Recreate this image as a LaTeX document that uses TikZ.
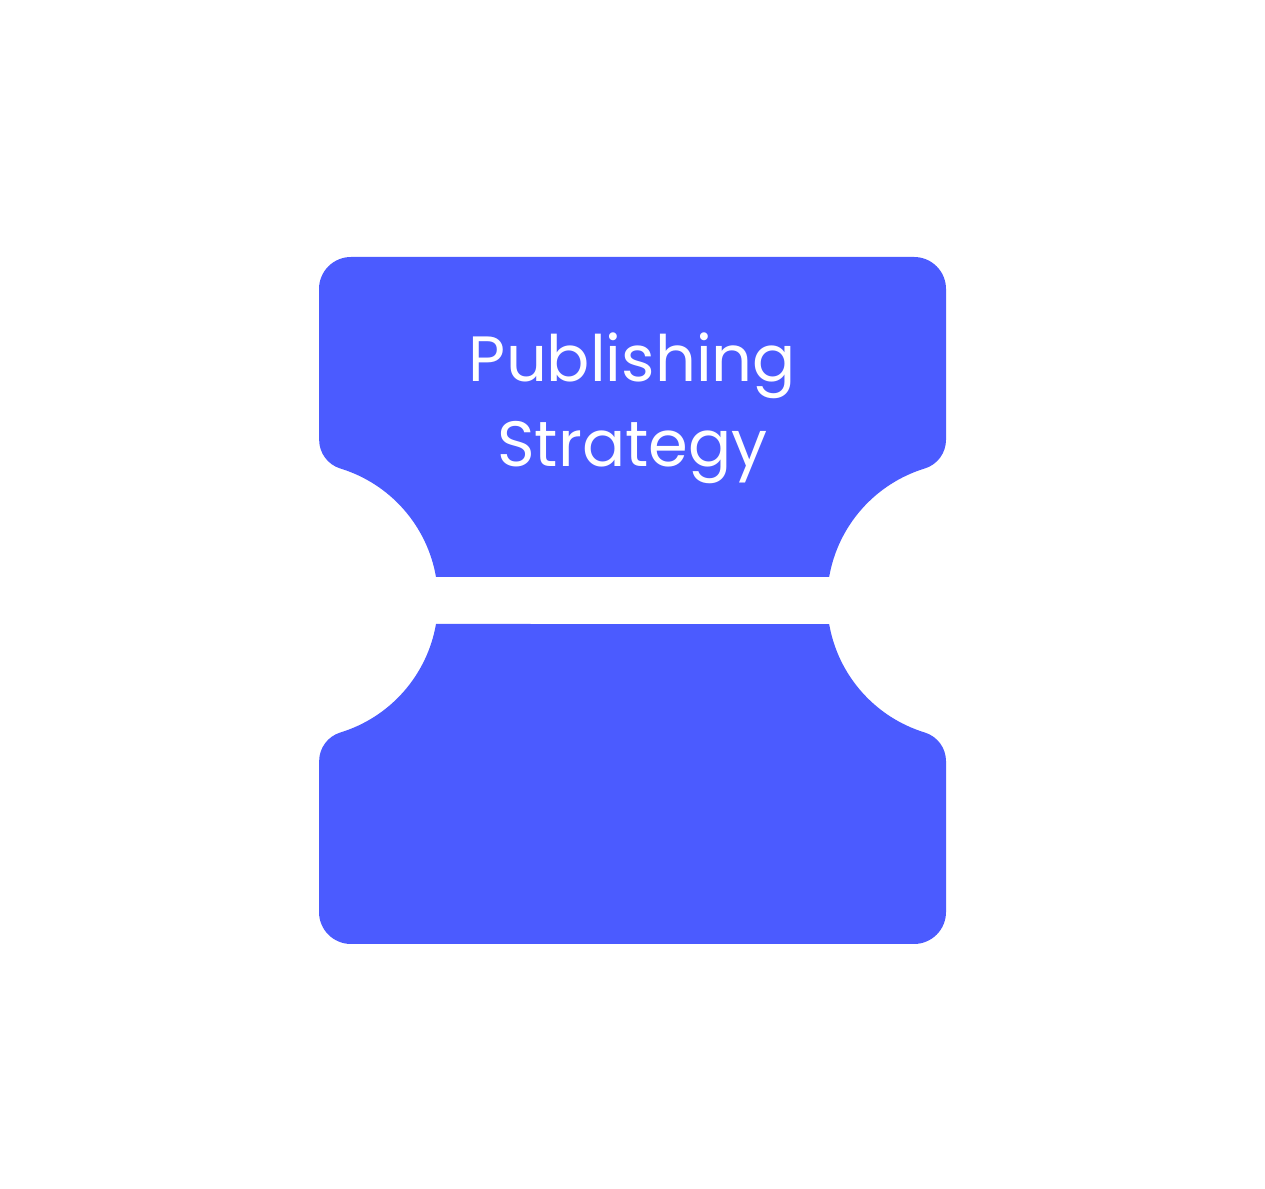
\documentclass[tikz,border=0pt]{standalone}
\usepackage{fontspec}
\setmainfont{Poppins}
\definecolor{blu}{RGB}{75,91,255}
\tikzset{
  blob/.style={fill=blu, draw=none},
  lbl/.style={text=white, anchor=base, inner sep=0pt, font=\fontsize{64}{77}\selectfont}
}
\newcommand{\ticketpath}{%
  (319,899) arc[start angle=180,end angle=90,radius=32]
  -- (914,931) arc[start angle=90,end angle=0,radius=32]
  -- (946,748.2) arc[start angle=0,end angle=-73,radius=30]
  arc[start angle=107,end angle=170.2,radius=138]
  -- (436,611) arc[start angle=9.8,end angle=73,radius=138]
  arc[start angle=-107,end angle=-180,radius=30]
  -- cycle}
\begin{document}
\begin{tikzpicture}[x=1pt,y=1pt]
\useasboundingbox (0,0) rectangle (1265,1188);
\fill[blob] \ticketpath;
\begin{scope}[shift={(0,1175)},yscale=-1]
\fill[blob] \ticketpath;
\end{scope}
\node[lbl] (t1) at (632.5,806) {Publishing};
\node[lbl] (t2) at (632.5,721) {Strategy};
\end{tikzpicture}
\end{document}
